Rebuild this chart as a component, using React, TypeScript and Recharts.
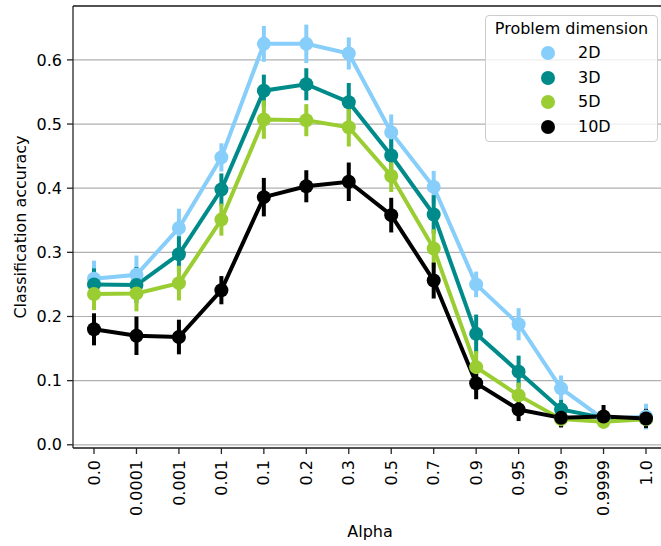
import {
  LineChart,
  Line,
  XAxis,
  YAxis,
  CartesianGrid,
  ErrorBar,
  Legend,
  Label,
  ReferenceLine
} from "recharts";

/* ---------------- DATA ---------------- */

const alphaLabels = [
  "0.0", "0.0001", "0.001", "0.01", "0.1", "0.2", "0.3",
  "0.5", "0.7", "0.9", "0.95", "0.99", "0.9999", "1.0"
];

const acc2D = [0.259, 0.265, 0.338, 0.448, 0.625, 0.625, 0.61, 0.487, 0.402, 0.25, 0.188, 0.088, 0.04, 0.044];
const acc3D = [0.25, 0.249, 0.297, 0.398, 0.552, 0.562, 0.534, 0.451, 0.359, 0.173, 0.114, 0.055, 0.042, 0.04];
const acc5D = [0.235, 0.236, 0.252, 0.351, 0.507, 0.506, 0.495, 0.419, 0.306, 0.121, 0.077, 0.04, 0.036, 0.04];
const acc10D = [0.18, 0.17, 0.168, 0.241, 0.386, 0.403, 0.41, 0.358, 0.256, 0.096, 0.055, 0.042, 0.044, 0.041];

// half-width of the confidence interval at each alpha
const err2D = [0.028, 0.03, 0.03, 0.022, 0.028, 0.03, 0.025, 0.028, 0.025, 0.02, 0.025, 0.02, 0.012, 0.02];
const err3D = [0.025, 0.028, 0.028, 0.025, 0.025, 0.025, 0.03, 0.03, 0.03, 0.03, 0.025, 0.015, 0.012, 0.012];
const err5D = [0.025, 0.028, 0.027, 0.025, 0.03, 0.025, 0.03, 0.025, 0.03, 0.025, 0.02, 0.012, 0.01, 0.01];
const err10D = [0.025, 0.03, 0.027, 0.022, 0.03, 0.025, 0.03, 0.027, 0.028, 0.025, 0.018, 0.015, 0.018, 0.015];

const yTicks = [0, 0.1, 0.2, 0.3, 0.4, 0.5, 0.6];

const SERIES = [
  { key: "d2", err: "e2", name: "2D", color: "#87cefa" },
  { key: "d3", err: "e3", name: "3D", color: "#008b8b" },
  { key: "d5", err: "e5", name: "5D", color: "#9acd32" },
  { key: "d10", err: "e10", name: "10D", color: "#000000" }
];

const rows = alphaLabels.map((alpha, i) => ({
  alpha,
  d2: acc2D[i], e2: err2D[i],
  d3: acc3D[i], e3: err3D[i],
  d5: acc5D[i], e5: err5D[i],
  d10: acc10D[i], e10: err10D[i]
}));

/* ---------------- STYLE ---------------- */

const FONT = "DejaVu Sans";
const SPINE = "#262626";
const Y_MIN = -0.005;
const Y_MAX = 0.684;

/* ---------------- PARTS ---------------- */

function AlphaTick(props: any) {
  const { x, y, payload } = props;
  return (
    <text
      x={x}
      y={y}
      transform={`rotate(-90, ${x}, ${y})`}
      textAnchor="end"
      dy="0.35em"
      fontFamily={FONT}
      fontSize={16}
      fill="#000"
    >
      {payload.value}
    </text>
  );
}

function DimensionLegend() {
  return (
    <div
      style={{
        position: "relative",
        width: 171,
        height: 125,
        border: "1px solid #cccccc",
        borderRadius: 4,
        background: "rgba(255,255,255,0.8)",
        fontFamily: FONT,
        fontSize: 16,
        color: "#000"
      }}
    >
      <div
        style={{
          position: "absolute",
          top: 3,
          left: 0,
          width: "100%",
          textAlign: "center",
          lineHeight: "20px"
        }}
      >
        Problem dimension
      </div>
      {SERIES.map((s, i) => (
        <div
          key={s.name}
          style={{
            position: "absolute",
            top: 27 + i * 24.7,
            left: 0,
            height: 20,
            lineHeight: "20px"
          }}
        >
          <span
            style={{
              position: "absolute",
              left: 55,
              top: 3,
              width: 14,
              height: 14,
              borderRadius: 7,
              background: s.color
            }}
          />
          <span style={{ position: "absolute", left: 92, top: 0 }}>{s.name}</span>
        </div>
      ))}
    </div>
  );
}

/* ---------------- COMPONENT ---------------- */

export default function App() {
  return (
    <div
      style={{
        position: "fixed",
        left: 0,
        top: 0,
        width: 661,
        height: 546,
        overflow: "hidden",
        background: "#fff"
      }}
    >
      <LineChart
        width={672}
        height={546}
        data={rows}
        margin={{ top: 6, right: 5, bottom: 0, left: 0 }}
      >
        <CartesianGrid vertical={false} stroke="#b0b0b0" strokeWidth={1.2} />

        <XAxis
          dataKey="alpha"
          height={98}
          padding={{ left: 21, right: 21 }}
          interval={0}
          stroke={SPINE}
          strokeWidth={1.3}
          tickSize={6}
          tickMargin={6}
          tick={<AlphaTick />}
        >
          <Label
            content={({ viewBox }: any) => (
              <text
                x={viewBox.x + viewBox.width / 2}
                y={537}
                textAnchor="middle"
                fontFamily={FONT}
                fontSize={16}
                fill="#000"
              >
                Alpha
              </text>
            )}
          />
        </XAxis>

        <YAxis
          width={73}
          domain={[Y_MIN, Y_MAX]}
          ticks={yTicks}
          allowDataOverflow
          stroke={SPINE}
          strokeWidth={1.3}
          tickSize={6}
          tickMargin={5}
          tickFormatter={(v: number) => v.toFixed(1)}
          tick={{ fill: "#000", fontSize: 16, fontFamily: FONT }}
        >
          <Label
            content={() => (
              <text
                x={20}
                y={227}
                transform="rotate(-90, 20, 227)"
                textAnchor="middle"
                dy="0.35em"
                fontFamily={FONT}
                fontSize={16}
                fill="#000"
              >
                Classification accuracy
              </text>
            )}
          />
        </YAxis>

        {/* top spine */}
        <ReferenceLine y={Y_MAX} stroke={SPINE} strokeWidth={1.3} />

        {SERIES.map(s => (
          <Line
            key={s.key}
            dataKey={s.key}
            name={s.name}
            stroke={s.color}
            strokeWidth={4}
            dot={{ r: 7, fill: s.color, stroke: s.color, strokeWidth: 0 }}
            activeDot={false}
            isAnimationActive={false}
          >
            <ErrorBar
              dataKey={s.err}
              direction="y"
              width={0}
              stroke={s.color}
              strokeWidth={4}
              isAnimationActive={false}
            />
          </Line>
        ))}

        <Legend
          layout="horizontal"
          verticalAlign="middle"
          align="center"
          content={() => <DimensionLegend />}
          wrapperStyle={{ left: 485, top: 15, width: 173, height: 127 }}
        />
      </LineChart>
    </div>
  );
}
